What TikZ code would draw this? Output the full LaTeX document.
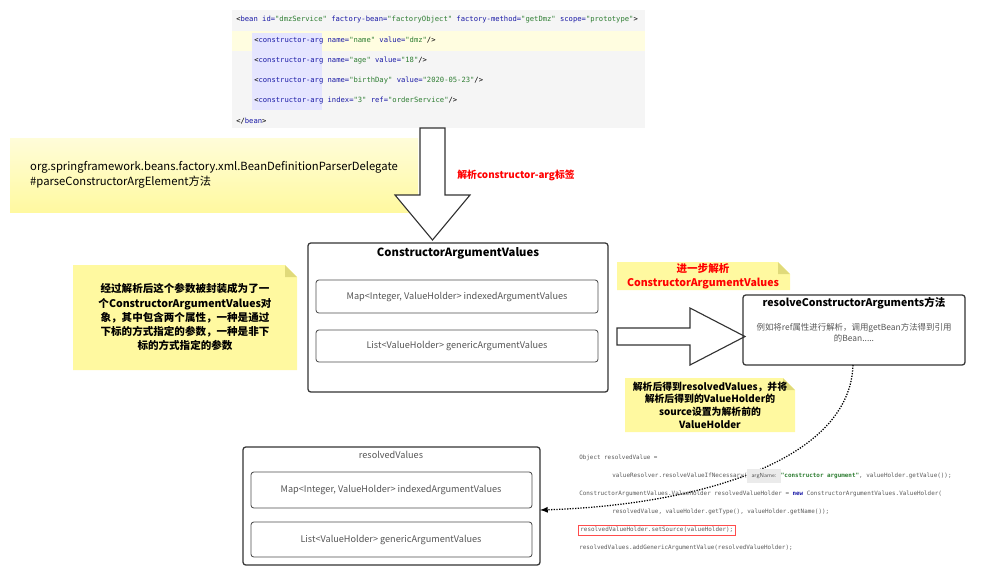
\documentclass[tikz,border=0pt]{standalone}
\usepackage{fontspec}
\setmainfont{Noto Sans CJK SC}
\newfontfamily\cjk{Noto Sans CJK SC}
\setmonofont{DejaVu Sans Mono}
\definecolor{note}{HTML}{FFF9A0}
\definecolor{notedark}{HTML}{E0DA7A}
\definecolor{kw}{HTML}{1A1AA6}
\definecolor{str}{HTML}{2E7D32}
\definecolor{grayc}{HTML}{555555}
\tikzset{
 box/.style={draw=black!80,line width=0.9pt,rounded corners=2pt},
 inner/.style={draw=black!70,line width=0.6pt,rounded corners=2pt},
 code/.style={anchor=west,font=\ttfamily\fontsize{5.1}{6}\selectfont,inner sep=0},
 notetxt/.style={align=center,font=\bfseries\fontsize{7.5}{10}\selectfont},
 hollow/.style={draw=black!80,fill=white,line width=0.8pt}
}
\newcommand{\notebox}[4]{\fill[note] (#1,#2) -- (#3-12,#2) -- (#3,#2+12) -- (#3,#4) -- (#1,#4) -- cycle;
 \fill[notedark] (#3-12,#2) -- (#3,#2+12) -- (#3-12,#2+12) -- cycle;}
\begin{document}
\begin{tikzpicture}[x=0.025cm,y=-0.025cm]
\useasboundingbox (0,0) rectangle (1000,575);
% top code
\fill[black!4] (232,10) rectangle (645,128);
\fill[yellow!12] (232,31) rectangle (645,51);
\fill[blue!10] (252,33) rectangle (322,110);
\node[code] (c1) at (236,20) {<\textcolor{kw}{bean id=}\textcolor{str}{"dmzService"} \textcolor{kw}{factory-bean=}\textcolor{str}{"factoryObject"} \textcolor{kw}{factory-method=}\textcolor{str}{"getDmz"} \textcolor{kw}{scope=}\textcolor{str}{"prototype"}>};
\node[code] (c2) at (254,41) {<\textcolor{kw}{constructor-arg name=}\textcolor{str}{"name"} \textcolor{kw}{value=}\textcolor{str}{"dmz"}/>};
\node[code] (c3) at (254,61) {<\textcolor{kw}{constructor-arg name=}\textcolor{str}{"age"} \textcolor{kw}{value=}\textcolor{str}{"18"}/>};
\node[code] (c4) at (254,81) {<\textcolor{kw}{constructor-arg name=}\textcolor{str}{"birthDay"} \textcolor{kw}{value=}\textcolor{str}{"2020-05-23"}/>};
\node[code] (c5) at (254,101) {<\textcolor{kw}{constructor-arg index=}\textcolor{str}{"3"} \textcolor{kw}{ref=}\textcolor{str}{"orderService"}/>};
\node[code] (c6) at (236,121) {</\textcolor{kw}{bean}>};
% left note
\shade[top color=note!40,bottom color=note] (10,138) rectangle (418,212);
\node[align=left,font=\fontsize{8}{11}\selectfont] (pn) at (214,175) {org.springframework.beans.factory.xml.BeanDefinitionParserDelegate\\\#parseConstructorArgElement方法};
% down arrow
\draw[hollow] (420,128) -- (445,128) -- (445,195) -- (470,195) -- (432.5,240) -- (395,195) -- (420,195) -- cycle;
\node[text=red,font=\bfseries\fontsize{7}{9}\selectfont] (lab1) at (516,175) {解析constructor-arg标签};
% CAV box
\draw[box] (308,243) rectangle (608,392);
\node[font=\bfseries\fontsize{8}{10}\selectfont] (cavt) at (458,253) {ConstructorArgumentValues};
\draw[inner] (316,280) rectangle (598,313);
\node[font=\fontsize{6.5}{8}\selectfont,text=grayc] (m1) at (457,297) {Map<Integer, ValueHolder> indexedArgumentValues};
\draw[inner] (316,330) rectangle (598,362);
\node[font=\fontsize{6.5}{8}\selectfont,text=grayc] (l1) at (457,346) {List<ValueHolder> genericArgumentValues};
% left yellow note
\notebox{73}{265}{297}{370}
\node[notetxt] (n1) at (185,317) {经过解析后这个参数被封装成为了一\\个ConstructorArgumentValues对\\象，其中包含两个属性，一种是通过\\下标的方式指定的参数，一种是非下\\标的方式指定的参数};
% right arrow
\draw[hollow] (617,328) -- (690,328) -- (690,308) -- (745,336.5) -- (690,365) -- (690,345) -- (617,345) -- cycle;
\notebox{617}{262}{790}{290}
\node[notetxt,text=red] (n2) at (703,276) {进一步解析\\ConstructorArgumentValues};
% resolve box
\draw[box] (743,295) rectangle (965,365);
\node[font=\bfseries\fontsize{7.5}{9}\selectfont] (rt) at (854,303) {resolveConstructorArguments方法};
\node[align=center,font=\fontsize{6}{8}\selectfont,text=grayc] (rd) at (854,333) {例如将ref属性进行解析，调用getBean方法得到引用\\的Bean.....};
\notebox{625}{378}{795}{432}
\node[notetxt,font=\bfseries\fontsize{7}{9}\selectfont] (n3) at (710,405) {解析后得到resolvedValues，并将\\解析后得到的ValueHolder的\\source设置为解析前的\\ValueHolder};
% resolvedValues box
\draw[box] (243,447) rectangle (540,565);
\node[font=\fontsize{6.5}{8}\selectfont,text=grayc] (rvt) at (391,455) {resolvedValues};
\draw[inner] (251,472) rectangle (532,508);
\node[font=\fontsize{6.5}{8}\selectfont,text=grayc] (m2) at (391,490) {Map<Integer, ValueHolder> indexedArgumentValues};
\draw[inner] (251,522) rectangle (532,557);
\node[font=\fontsize{6.5}{8}\selectfont,text=grayc] (l2) at (391,540) {List<ValueHolder> genericArgumentValues};
\coordinate (rvr) at (540,510);
\coordinate (rb) at (853,365);
\draw[densely dotted,line width=0.9pt,-latex] (rb) .. controls (850,460) and (700,505) .. (rvr);
% bottom code
\tikzset{bc/.style={code,text=black!65,font=\ttfamily\fontsize{4.2}{5}\selectfont}}
\node[bc] (d1) at (579,458) {Object resolvedValue =};
\node[bc] (d2) at (612,476) {valueResolver.resolveValueIfNecessary(\colorbox{black!8}{\textsf{argName:}}\textcolor{str}{\bfseries"constructor argument"}, valueHolder.getValue());};
\node[bc] (d3) at (579,494) {ConstructorArgumentValues.ValueHolder resolvedValueHolder = \textcolor{kw}{\bfseries new} ConstructorArgumentValues.ValueHolder(};
\node[bc] (d4) at (612,512) {resolvedValue, valueHolder.getType(), valueHolder.getName());};
\node[bc,draw=red!70,inner sep=1.5pt] (d5) at (578,530) {resolvedValueHolder.setSource(valueHolder);};
\node[bc] (d6) at (579,548) {resolvedValues.addGenericArgumentValue(resolvedValueHolder);};
\end{tikzpicture}
\end{document}
